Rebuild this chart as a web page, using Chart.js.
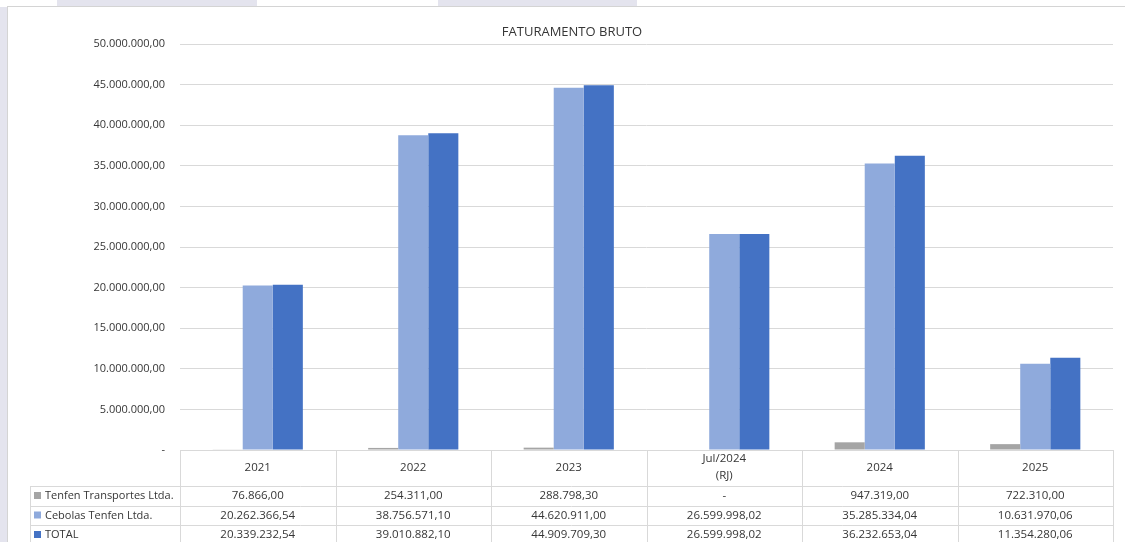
<!DOCTYPE html>
<html lang="pt-BR">
<head>
    <meta charset="UTF-8">
    <title>Faturamento Bruto</title>
    <style>
        body {
            margin: 0;
            padding: 0;
            background-color: #fff;
            font-family: "Open Sans", Arial, sans-serif;
        }
        .stage {
            position: relative;
            width: 1125px;
            height: 542px;
            overflow: hidden;
        }
        .deco {
            position: absolute;
            background-color: #e4e4ee;
        }
        .box {
            position: absolute;
            left: 7px;
            top: 6px;
            width: 1125px;
            height: 545px;
            background-color: #fff;
            border: 1px solid #d4d4d4;
        }
        canvas {
            position: absolute;
            left: 0;
            top: 0;
        }
    </style>
    <script src="https://cdn.jsdelivr.net/npm/chart.js"></script>
</head>
<body>
<div class="stage">
    <div class="deco" style="left:57px; top:0; width:200px; height:7px;"></div>
    <div class="deco" style="left:438px; top:0; width:199px; height:7px;"></div>
    <div class="deco" style="left:0; top:7px; width:7px; height:535px;"></div>
    <div class="box"></div>
    <canvas id="faturamento" width="1125" height="542"></canvas>
</div>
<script>
    const categories = ['2021', '2022', '2023', 'Jul/2024\n(RJ)', '2024', '2025'];
    const seriesNames = ['Tenfen Transportes Ltda.', 'Cebolas Tenfen Ltda.', 'TOTAL'];
    const transportes = [76866.00, 254311.00, 288798.30, null, 947319.00, 722310.00];
    const cebolas = [20262366.54, 38756571.10, 44620911.00, 26599998.02, 35285334.04, 10631970.06];
    const total = [20339232.54, 39010882.10, 44909709.30, 26599998.02, 36232653.04, 11354280.06];
    const colors = ['#a5a5a5', '#8faadc', '#4472c4'];

    const fmt = new Intl.NumberFormat('pt-BR', { minimumFractionDigits: 2, maximumFractionDigits: 2 });
    function money(v) {
        if (v === null || v === 0) return '-';
        return fmt.format(v);
    }

    const textColor = '#363636';
    const lineColor = '#d9d9d9';
    const font = '11.5px "Open Sans", Arial, sans-serif';
    const labelFont = '11px "Open Sans", Arial, sans-serif';

    // title + data table under the plot, aligned on the x scale
    const tablePlugin = {
        id: 'tablePlugin',
        afterDraw(chart) {
            const ctx = chart.ctx;
            const x = chart.scales.x;
            const area = chart.chartArea;
            const left = area.left, right = area.right, top = area.bottom;
            const colW = (right - left) / categories.length;
            const labelLeft = 30;
            const rows = [top + 36, top + 56, top + 75, top + 95];

            ctx.save();
            ctx.fillStyle = textColor;
            ctx.font = '13px "Open Sans", Arial, sans-serif';
            ctx.textAlign = 'center';
            ctx.textBaseline = 'middle';
            ctx.fillText('FATURAMENTO BRUTO', 572, 32);

            ctx.strokeStyle = lineColor;
            ctx.lineWidth = 1;
            ctx.beginPath();
            ctx.moveTo(left, top + 0.5);
            ctx.lineTo(right, top + 0.5);
            rows.forEach(y => {
                ctx.moveTo(labelLeft, Math.round(y) + 0.5);
                ctx.lineTo(right, Math.round(y) + 0.5);
            });
            for (let i = 0; i <= categories.length; i++) {
                const cx = Math.round(left + i * colW) + 0.5;
                ctx.moveTo(cx, top);
                ctx.lineTo(cx, rows[3]);
            }
            ctx.moveTo(labelLeft + 0.5, rows[0]);
            ctx.lineTo(labelLeft + 0.5, rows[3]);
            ctx.stroke();

            ctx.font = font;
            ctx.fillStyle = textColor;
            categories.forEach((c, i) => {
                const cx = x.getPixelForValue(i);
                const lines = c.split('\n');
                if (lines.length === 1) {
                    ctx.fillText(lines[0], cx, top + 18);
                } else {
                    ctx.fillText(lines[0], cx, top + 9);
                    ctx.fillText(lines[1], cx, top + 26);
                }
            });

            const data = [transportes, cebolas, total];
            data.forEach((arr, r) => {
                const cy = (rows[r] + rows[r + 1]) / 2;
                ctx.fillStyle = colors[r];
                ctx.fillRect(labelLeft + 4, cy - 4, 7, 7);
                ctx.fillStyle = textColor;
                ctx.textAlign = 'left';
                ctx.font = labelFont;
                ctx.fillText(seriesNames[r], labelLeft + 15, cy);
                ctx.textAlign = 'center';
                ctx.font = font;
                arr.forEach((v, i) => {
                    ctx.fillText(money(v), x.getPixelForValue(i), cy);
                });
            });
            ctx.restore();
        }
    };

    new Chart(document.getElementById('faturamento'), {
        type: 'bar',
        data: {
            labels: categories,
            datasets: [
                { label: seriesNames[0], data: transportes, backgroundColor: colors[0] },
                { label: seriesNames[1], data: cebolas, backgroundColor: colors[1] },
                { label: seriesNames[2], data: total, backgroundColor: colors[2] }
            ]
        },
        options: {
            responsive: false,
            animation: false,
            layout: { padding: { top: 44, right: 12, bottom: 92, left: 0 } },
            datasets: {
                bar: { categoryPercentage: 0.58, barPercentage: 1.0, borderWidth: 0 }
            },
            plugins: {
                legend: { display: false },
                title: { display: false },
                tooltip: { enabled: false }
            },
            scales: {
                x: { display: false },
                y: {
                    min: 0,
                    max: 50000000,
                    afterFit(scale) { scale.width = 180; },
                    ticks: {
                        stepSize: 5000000,
                        color: textColor,
                        padding: 15,
                        font: { family: '"Open Sans", Arial, sans-serif', size: 11 },
                        callback: v => v === 0 ? '-' : fmt.format(v)
                    },
                    grid: { color: lineColor, drawTicks: false },
                    border: { display: false }
                }
            }
        },
        plugins: [tablePlugin]
    });
</script>
</body>
</html>
